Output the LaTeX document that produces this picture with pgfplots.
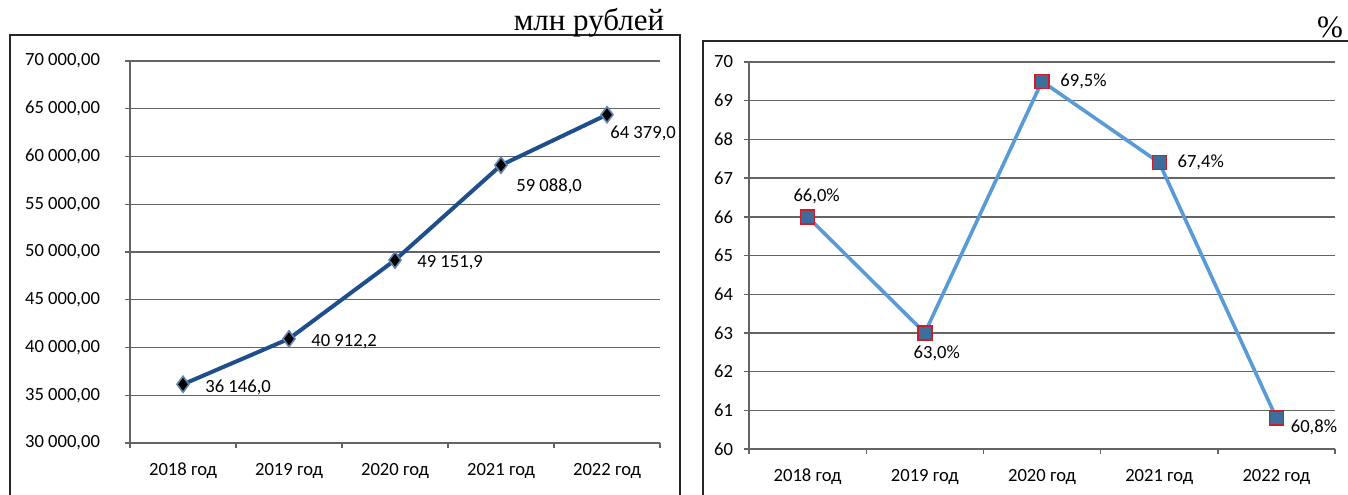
\documentclass[border=0pt]{standalone}
\usepackage{fontspec}
\setmainfont{Carlito}
\newfontfamily\timesfont{Liberation Serif}
\usepackage{pgfplots}
\pgfplotsset{compat=1.18}

\definecolor{lineA}{RGB}{31,78,140}
\definecolor{lineB}{RGB}{91,155,213}
\definecolor{markB}{RGB}{62,108,155}
\definecolor{markEdge}{RGB}{205,30,40}
\definecolor{gridc}{RGB}{100,100,100}

\pgfplotsset{
  excel/.style={
    scale only axis, clip=false,
    xmin=0, xmax=5,
    axis x line*=bottom, axis y line*=left,
    axis line style={-, draw=gridc, line width=0.7pt},
    ymajorgrids, grid style={draw=gridc, line width=0.7pt},
    tick align=outside, major tick length=2.5pt,
    tick style={draw=gridc, line width=0.7pt},
    xtick={0,1,2,3,4,5}, xticklabels={},
    extra x ticks={0.5,1.5,2.5,3.5,4.5},
    extra x tick labels={2018 год,2019 год,2020 год,2021 год,2022 год},
    extra x tick style={major tick length=0pt, grid=none,
      xticklabel style={yshift=-6.5pt}},
    ticklabel style={font=\fontsize{9.3}{11}\selectfont},
  },
  lbl/.style={draw=none, mark=none, nodes near coords, point meta=explicit symbolic,
    every node near coord/.append style={font=\fontsize{9.3}{11}\selectfont, inner sep=0pt, #1}},
}

\begin{document}
\begin{tikzpicture}
\useasboundingbox (0,0) rectangle (674pt,247pt);
\clip (0,0) rectangle (674pt,247pt);

% frames and headings
\draw[line width=0.8pt, black!85] (5pt,-5pt) rectangle (340pt,229.5pt);
\draw[line width=0.8pt, black!85] (351.5pt,-5pt) rectangle (700pt,226.5pt);
\node[anchor=base, font=\timesfont\fontsize{15.5}{18}\selectfont] at (294.5pt,232pt) {млн рублей};
\node[anchor=base, font=\timesfont\fontsize{15.5}{18}\selectfont] at (665pt,228.5pt) {\%};

% left: million rubles
\begin{axis}[excel, at={(65pt,25.5pt)}, anchor=south west, width=265pt, height=191pt,
  ymin=30000, ymax=70000, ytick distance=5000, scaled y ticks=false,
  yticklabel={\pgfmathprintnumber[assume math mode=true, fixed, fixed zerofill, precision=2, use comma, 1000 sep={\ }]{\tick}},
  yticklabel style={xshift=-9pt}]
\addplot[lineA, line width=2pt, mark=diamond*, mark size=4pt,
  mark options={fill=black, draw=lineA!70, line width=0.8pt}]
  coordinates {(0.5,36146.0) (1.5,40912.2) (2.5,49151.9) (3.5,59088.0) (4.5,64379.0)};
\addplot[lbl={anchor=west, xshift=11pt, yshift=-1.5pt}]
  coordinates {(0.5,36146.0) [36 146,0] (1.5,40912.2) [40 912,2] (2.5,49151.9) [49 151,9]};
\addplot[lbl={anchor=west, xshift=7.5pt, yshift=-10.5pt}] coordinates {(3.5,59088.0) [59 088,0]};
\addplot[lbl={anchor=west, xshift=1.5pt, yshift=-9.5pt}] coordinates {(4.5,64379.0) [64 379,0]};
\end{axis}

% right: percent
\begin{axis}[excel, at={(374.5pt,22.5pt)}, anchor=south west, width=293pt, height=193.5pt,
  ymin=60, ymax=70, ytick distance=1,
  yticklabel={\pgfmathprintnumber[assume math mode=true]{\tick}},
  yticklabel style={xshift=-2pt}]
\addplot[lineB, line width=1.8pt, mark=square*, mark size=3.5pt,
  mark options={fill=markB, draw=markEdge, line width=0.7pt}]
  coordinates {(0.5,66.0) (1.5,63.0) (2.5,69.5) (3.5,67.4) (4.5,60.8)};
\addplot[lbl={anchor=center, xshift=4.5pt, yshift=10pt}] coordinates {(0.5,66.0) [66,0\%]};
\addplot[lbl={anchor=center, xshift=6pt, yshift=-10pt}] coordinates {(1.5,63.0) [63,0\%]};
\addplot[lbl={anchor=west, xshift=9pt}] coordinates {(2.5,69.5) [69,5\%] (3.5,67.4) [67,4\%]};
\addplot[lbl={anchor=west, xshift=7pt, yshift=-4.5pt}] coordinates {(4.5,60.8) [60,8\%]};
\end{axis}
\end{tikzpicture}
\end{document}
